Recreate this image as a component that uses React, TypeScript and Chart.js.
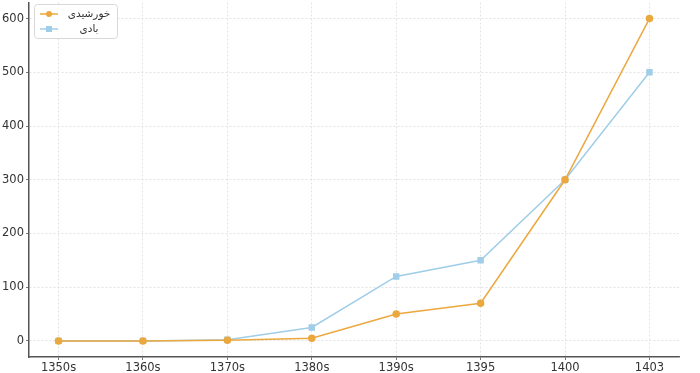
import React, { useEffect, useRef } from "react";
import { Chart, registerables } from "chart.js";

Chart.register(...registerables);

const categories = ["1350s", "1360s", "1370s", "1380s", "1390s", "1395", "1400", "1403"];
const solarValues = [0, 0, 1, 5, 50, 70, 300, 600];
const windValues = [0, 0, 2, 25, 120, 150, 300, 500];
const seriesLabels = ["خورشیدی", "بادی"];
const yTicks = [0, 100, 200, 300, 400, 500, 600];

const ORANGE = "#EBA83E";
const BLUE = "#A0CDE8";
const SHIFT = 3;

const legendPlugin = {
  id: "mplLegend",
  afterDraw(chart: any) {
    const ctx = chart.ctx;
    const ca = chart.chartArea;
    const x0 = ca.left + 5;
    const y0 = 4 + SHIFT;
    const w = 83;
    const h = 34;
    ctx.save();
    ctx.fillStyle = "rgba(255,255,255,0.9)";
    ctx.strokeStyle = "#d8d8d8";
    ctx.lineWidth = 1;
    ctx.beginPath();
    (ctx as any).roundRect(x0 + 0.5, y0 + 0.5, w, h, 3);
    ctx.fill();
    ctx.stroke();
    chart.data.datasets.forEach((ds: any, i: number) => {
      const cy = y0 + 10 + i * 15;
      ctx.strokeStyle = ds.borderColor;
      ctx.lineWidth = 1.5;
      ctx.beginPath();
      ctx.moveTo(x0 + 6, cy);
      ctx.lineTo(x0 + 24, cy);
      ctx.stroke();
      ctx.fillStyle = ds.backgroundColor;
      if (ds.pointStyle === "rect") {
        ctx.fillRect(x0 + 15 - 3, cy - 3, 6, 6);
      } else {
        ctx.beginPath();
        ctx.arc(x0 + 15, cy, 3, 0, Math.PI * 2);
        ctx.fill();
      }
      ctx.fillStyle = "#333";
      ctx.font = "10.5px 'DejaVu Sans'";
      ctx.textAlign = "center";
      ctx.textBaseline = "middle";
      ctx.fillText(ds.label, x0 + 55, cy);
    });
    ctx.restore();
  },
};

export default function App() {
  const ref = useRef<HTMLCanvasElement>(null);
  useEffect(() => {
    if (!ref.current) return;
    const chart = new Chart(ref.current, {
      type: "line",
      data: {
        datasets: [
          {
            label: seriesLabels[0],
            data: solarValues.map((v, i) => ({ x: i, y: v })),
            borderColor: ORANGE,
            backgroundColor: ORANGE,
            pointStyle: "circle",
            pointRadius: 3,
            borderWidth: 1.5,
          },
          {
            label: seriesLabels[1],
            data: windValues.map((v, i) => ({ x: i, y: v })),
            borderColor: BLUE,
            backgroundColor: BLUE,
            pointStyle: "rect",
            pointRadius: 3.5,
            borderWidth: 1.5,
          },
        ],
      },
      options: {
        responsive: false,
        animation: false,
        layout: { padding: { top: 0, right: 21, left: 0, bottom: 0 } },
        plugins: { legend: { display: false }, tooltip: { enabled: false } },
        scales: {
          x: {
            type: "linear",
            min: -0.35,
            max: 7.35,
            afterBuildTicks: (s: any) => {
              s.ticks = categories.map((_, i) => ({ value: i }));
            },
            afterFit: (s: any) => {
              s.height = 16;
              s.paddingLeft = 0;
              s.paddingRight = 0;
            },
            ticks: {
              callback: (v: any) => categories[v] ?? "",
              color: "#333",
              font: { family: "DejaVu Sans", size: 11.5 },
              padding: 1,
              maxRotation: 0,
              autoSkip: false,
            },
            grid: {
              color: "#dcdcdc",
              tickColor: "#555",
              tickLength: 3,
              lineWidth: 0.8,
            },
            border: { color: "#555", width: 1.5, dash: [2, 2] as any },
          },
          y: {
            min: -30,
            max: 630,
            afterBuildTicks: (s: any) => {
              s.ticks = yTicks.map((v) => ({ value: v }));
            },
            afterFit: (s: any) => {
              s.width = 29;
              s.paddingTop = 0;
              s.paddingBottom = 0;
            },
            ticks: {
              color: "#333",
              font: { family: "DejaVu Sans", size: 11.5 },
              padding: 2,
            },
            grid: {
              color: "#dcdcdc",
              tickColor: "#555",
              tickLength: 3,
              lineWidth: 0.8,
            },
            border: { color: "#555", width: 1.5, dash: [2, 2] as any },
          },
        },
      },
      plugins: [legendPlugin],
    });
    return () => chart.destroy();
  }, []);
  return (
    <div style={{ position: "fixed", left: 0, top: 0, width: 700, height: 373, background: "#fff", overflow: "hidden" }}>
      <canvas
        ref={ref}
        width={700}
        height={373 + SHIFT}
        style={{ position: "absolute", left: 0, top: -SHIFT }}
      />
    </div>
  );
}
